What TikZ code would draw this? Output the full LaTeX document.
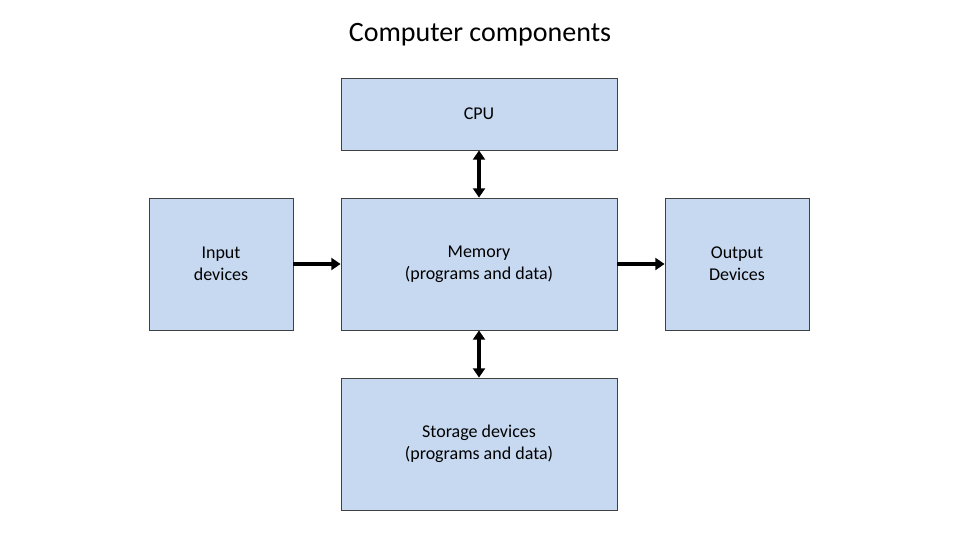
\documentclass[tikz,border=0pt]{standalone}
\usepackage{fontspec}
\setmainfont{Carlito}
\usetikzlibrary{arrows.meta}
\definecolor{boxfill}{HTML}{C7D9F1}
\begin{document}
\begin{tikzpicture}[x=0.75pt,y=-0.75pt,
  box/.style={draw=black!75,line width=0.6pt,fill=boxfill,inner sep=0pt,align=center,font=\fontsize{13.5}{16.5}\selectfont},
  conn/.style={line width=2.4pt,-{Triangle[length=7pt,width=9pt]}},
  bconn/.style={line width=2.4pt,{Triangle[length=7pt,width=9pt]}-{Triangle[length=7pt,width=9pt]}}]
\useasboundingbox (0,0) rectangle (960,540);
\node[font=\fontsize{21}{25}\selectfont] (title) at (480,35) {Computer components};
\node[box,minimum width=207pt,minimum height=54pt] (cpu) at (479,114) {CPU};
\node[box,minimum width=207pt,minimum height=99pt] (mem) at (479,264) {Memory\\(programs and data)};
\node[box,minimum width=207pt,minimum height=99pt] (sto) at (479,444) {Storage devices\\(programs and data)};
\node[box,minimum width=108pt,minimum height=99pt] (in) at (221,264) {Input\\devices};
\node[box,minimum width=108pt,minimum height=99pt] (out) at (737,264) {Output\\Devices};
\draw[bconn] (cpu.south) -- (mem.north);
\draw[bconn] (mem.south) -- (sto.north);
\draw[conn] (in.east) -- (mem.west);
\draw[conn] (mem.east) -- (out.west);
\end{tikzpicture}
\end{document}
